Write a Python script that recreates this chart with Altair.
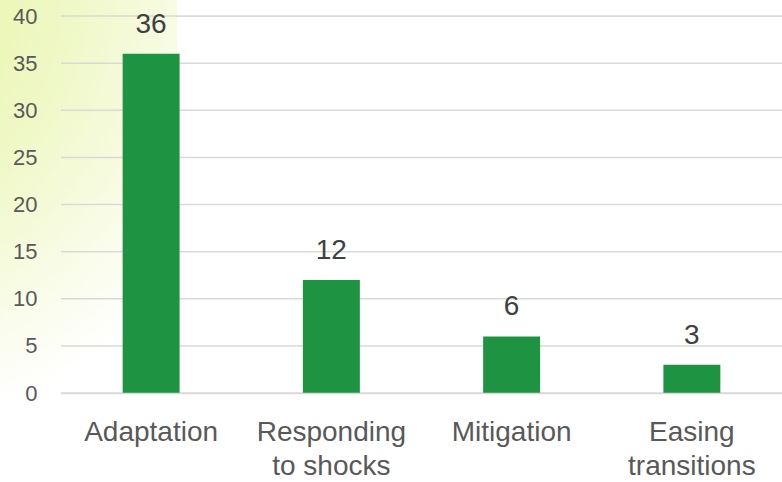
import altair as alt
import pandas as pd

# Number of actions by category
categories = ["Adaptation", "Responding to shocks", "Mitigation", "Easing transitions"]
counts = [36, 12, 6, 3]
y_ticks = [0, 5, 10, 15, 20, 25, 30, 35, 40]

df = pd.DataFrame({"category": categories, "count": counts})
grid_df = pd.DataFrame({"count": y_ticks})

W, H = 721, 377
PAD = {"left": 61, "top": 16, "right": 0, "bottom": 89}

y_scale = alt.Scale(domain=[0, 40], nice=False)
y_axis = alt.Axis(
    title=None,
    values=y_ticks,
    labelFont="Liberation Sans",
    labelFontSize=22,
    labelColor="#595959",
    labelPadding=24,
    domain=False,
    ticks=False,
    grid=False,
    zindex=1,
)

# soft yellow-green wash in the upper-left corner
wash = alt.Chart(pd.DataFrame({"k": [0]})).mark_rect(
    fill=alt.Gradient(
        gradient="radial",
        stops=[
            alt.GradientStop(color="#e6f59a", offset=0),
            alt.GradientStop(color="#eff8c6", offset=0.45),
            alt.GradientStop(color="#ffffff", offset=0.9),
        ],
        x1=0, y1=0, r1=0, x2=0, y2=0, r2=1,
    )
).encode(
    x=alt.value(-61), x2=alt.value(116), y=alt.value(-16), y2=alt.value(466)
)

# horizontal gridlines at the tick values
grid = alt.Chart(grid_df).mark_rule(color="#d9d9d9", strokeWidth=1.5).encode(
    y=alt.Y("count:Q", scale=y_scale, axis=y_axis),
    x=alt.value(0),
    x2=alt.value(W),
)

x_enc = alt.X(
    "category:N",
    sort=categories,
    scale=alt.Scale(paddingInner=0.684, paddingOuter=0.342),
    axis=alt.Axis(
        title=None,
        labelAngle=0,
        labelFont="Liberation Sans",
        labelFontSize=28,
        labelColor="#595959",
        labelPadding=25,
        labelLineHeight=34,
        labelBaseline="top",
        domainColor="#d9d9d9",
        domainWidth=1.5,
        ticks=False,
        zindex=1,
        labelExpr="length(datum.label) > 12 ? [slice(datum.label, 0, indexof(datum.label, ' ')), slice(datum.label, indexof(datum.label, ' ') + 1)] : datum.label",
    ),
)

bars = alt.Chart(df).mark_bar(color="#1e9443").encode(
    x=x_enc, y=alt.Y("count:Q", scale=y_scale, axis=y_axis)
)

labels = alt.Chart(df).mark_text(
    font="Liberation Sans",
    fontSize=28,
    color="#404040",
    baseline="alphabetic",
    dy=-21,
).encode(x=alt.X("category:N", sort=categories), y="count:Q", text="count:Q")

chart = (
    alt.layer(wash, grid, bars, labels)
    .properties(width=W, height=H, padding=PAD, autosize=alt.AutoSizeParams(type="none"))
    .configure_view(stroke=None)
    .configure(background="#ffffff")
)

chart.save("out.html", embed_options={"renderer": "svg", "actions": False})
